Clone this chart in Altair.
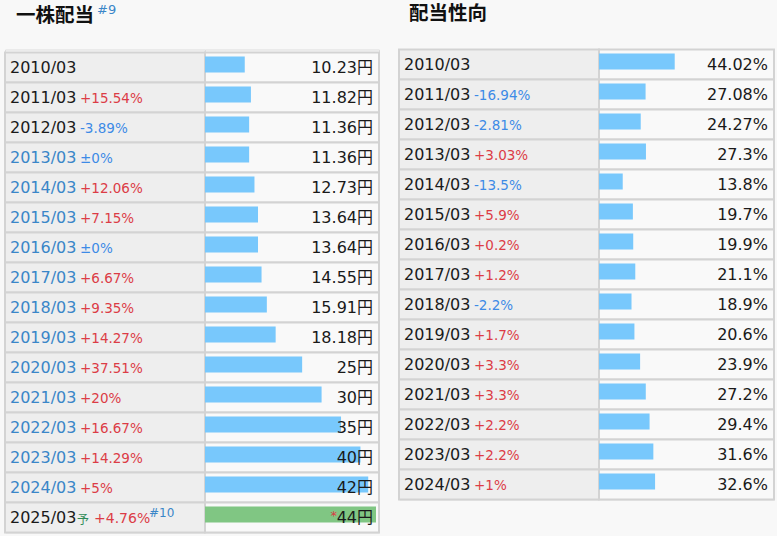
import altair as alt
import pandas as pd

# ---------------- data ----------------
TITLE_DIV = "一株配当"
TITLE_DIV_NOTE = "#9"
TITLE_PAYOUT = "配当性向"

div_years = ["2010/03", "2011/03", "2012/03", "2013/03", "2014/03", "2015/03", "2016/03",
             "2017/03", "2018/03", "2019/03", "2020/03", "2021/03", "2022/03", "2023/03",
             "2024/03", "2025/03"]
div_values = [10.23, 11.82, 11.36, 11.36, 12.73, 13.64, 13.64, 14.55, 15.91, 18.18,
              25, 30, 35, 40, 42, 44]
div_changes = ["", "+15.54%", "-3.89%", "±0%", "+12.06%", "+7.15%", "±0%", "+6.67%",
               "+9.35%", "+14.27%", "+37.51%", "+20%", "+16.67%", "+14.29%", "+5%", "+4.76%"]
div_linked = [False, False, False, True, True, True, True, True, True, True, True, True,
              True, True, True, False]
div_forecast = [False] * 15 + [True]
FORECAST_MARK = "予"
FORECAST_NOTE = "#10"
FORECAST_STAR = "*"

pay_years = ["2010/03", "2011/03", "2012/03", "2013/03", "2014/03", "2015/03", "2016/03",
             "2017/03", "2018/03", "2019/03", "2020/03", "2021/03", "2022/03", "2023/03",
             "2024/03"]
pay_values = [44.02, 27.08, 24.27, 27.3, 13.8, 19.7, 19.9, 21.1, 18.9, 20.6, 23.9, 27.2,
              29.4, 31.6, 32.6]
pay_changes = ["", "-16.94%", "-2.81%", "+3.03%", "-13.5%", "+5.9%", "+0.2%", "+1.2%",
               "-2.2%", "+1.7%", "+3.3%", "+3.3%", "+2.2%", "+2.2%", "+1%"]

# ---------------- styling ----------------
FONT = "DejaVu Sans, Noto Sans CJK JP"
TFONT = "Noto Sans CJK JP"
BLACK = "#1a1a1a"
LINK = "#3a86c8"
RED = "#dc3c46"
NEG = "#3d8ae6"
BAR = "#78c8fc"
GREEN = "#80c683"
GRID = "#d3d3d3"
LABEL_BG = "#eeeeee"
CELL_BG = "#f9f9f9"


def fmt(v, unit):
    return f"{v:g}{unit}"


df_div = pd.DataFrame({
    "year": div_years,
    "value": div_values,
    "chg": div_changes,
    "forecast": div_forecast,
})
df_div["vlabel"] = [fmt(v, "円") for v in div_values]
df_div["ycolor"] = [LINK if l else BLACK for l in div_linked]
df_div["ccolor"] = [RED if c.startswith("+") else NEG for c in div_changes]
df_div["bcolor"] = [GREEN if f else BAR for f in div_forecast]
df_div["fmark"] = [FORECAST_MARK if f else "" for f in div_forecast]
df_div["fnote"] = [FORECAST_NOTE if f else "" for f in div_forecast]
df_div["star"] = [FORECAST_STAR if f else "" for f in div_forecast]

df_pay = pd.DataFrame({
    "year": pay_years,
    "value": pay_values,
    "chg": pay_changes,
    "forecast": [False] * len(pay_years),
})
df_pay["vlabel"] = [fmt(v, "%") for v in pay_values]
df_pay["ycolor"] = BLACK
df_pay["ccolor"] = [RED if c.startswith("+") else NEG for c in pay_changes]
df_pay["bcolor"] = BAR


def label_panel(df, yscale, height, title, note=None):
    y = alt.Y("year:N", sort=None, axis=None, scale=yscale)
    base = alt.Chart(df)
    cells = base.mark_rect(fill=LABEL_BG, stroke=GRID, strokeWidth=2).encode(
        y=y, x=alt.value(0), x2=alt.value(200))
    years = base.mark_text(align="left", baseline="middle", fontSize=16, font=FONT).encode(
        y=y, x=alt.value(5), text="year:N", color=alt.Color("ycolor:N", scale=None))
    chg = base.transform_filter("!datum.forecast").mark_text(
        align="left", baseline="middle", fontSize=13.5, font=FONT, dy=1).encode(
        y=y, x=alt.value(75), text="chg:N", color=alt.Color("ccolor:N", scale=None))
    layers = [cells, years, chg]
    if "fmark" in df.columns:
        fc = base.transform_filter("datum.forecast")
        layers.append(fc.mark_text(align="left", baseline="middle", fontSize=12,
                                   font=TFONT, color="#2e8b57", dy=2).encode(
            y=y, x=alt.value(72), text="fmark:N"))
        layers.append(fc.mark_text(align="left", baseline="middle", fontSize=14,
                                   font=FONT, dy=1).encode(
            y=y, x=alt.value(89), text="chg:N", color=alt.Color("ccolor:N", scale=None)))
        layers.append(fc.mark_text(align="left", baseline="middle", fontSize=12,
                                   font=FONT, color=LINK, dy=-5).encode(
            y=y, x=alt.value(144), text="fnote:N"))
    tdf = pd.DataFrame({"t": [title]})
    layers.append(alt.Chart(tdf).mark_text(
        align="left", baseline="middle", fontSize=19.5, fontWeight="bold", font=TFONT,
        color="#111111").encode(x=alt.value(11 if note else 10),
                                y=alt.value(-34 if note else -36), text="t:N"))
    if note:
        ndf = pd.DataFrame({"t": [note]})
        layers.append(alt.Chart(ndf).mark_text(
            align="left", baseline="middle", fontSize=13, font=FONT, color=LINK).encode(
            x=alt.value(92), y=alt.value(-40), text="t:N"))
    return alt.layer(*layers).properties(width=200, height=height)


def bar_panel(df, yscale, height, width, dmax, rmax):
    y = alt.Y("year:N", sort=None, axis=None, scale=yscale)
    base = alt.Chart(df)
    cells = base.mark_rect(fill=CELL_BG, stroke=GRID, strokeWidth=2).encode(
        y=y, x=alt.value(0), x2=alt.value(width))
    bars = base.mark_bar(size=16, yOffset=-3).encode(
        y=y,
        x=alt.X("value:Q", axis=None,
                scale=alt.Scale(domain=[0, dmax], range=[0, rmax], nice=False)),
        color=alt.Color("bcolor:N", scale=None))
    vals = base.mark_text(align="right", baseline="middle", fontSize=16, font=FONT,
                          color=BLACK).encode(
        y=y, x=alt.value(width - 6), text="vlabel:N")
    layers = [cells, bars, vals]
    if "star" in df.columns:
        layers.append(base.transform_filter("datum.forecast").mark_text(
            align="right", baseline="middle", fontSize=13, font=FONT, color=RED, dy=-2).encode(
            y=y, x=alt.value(width - 42), text="star:N"))
    return alt.layer(*layers).properties(width=width, height=height)


ys_div = alt.Scale(paddingInner=0, paddingOuter=0.05, align=1)
ys_pay = alt.Scale(paddingInner=0, paddingOuter=0)

left = alt.hconcat(
    label_panel(df_div, ys_div, 483, TITLE_DIV, TITLE_DIV_NOTE),
    bar_panel(df_div, ys_div, 483, 174, 44, 171),
    spacing=0, bounds="flush")
right = alt.hconcat(
    label_panel(df_pay, ys_pay, 450, TITLE_PAYOUT),
    bar_panel(df_pay, ys_pay, 450, 175, 100, 172),
    spacing=0, bounds="flush")

chart = alt.hconcat(left, right, spacing=16).properties(
    padding={"left": 3, "top": 2.5, "right": 1, "bottom": 3},
    background="#f8f8f8",
).configure_view(strokeWidth=0).configure(font=FONT)

chart.save("out.html", embed_options={"renderer": "svg", "actions": False})
